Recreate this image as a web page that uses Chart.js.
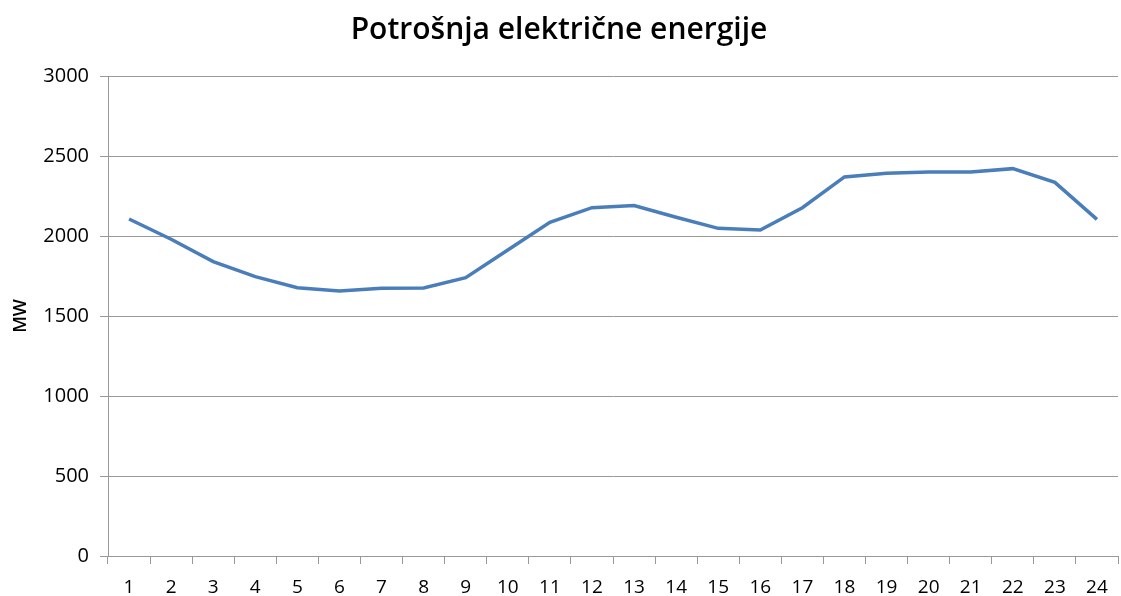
<!DOCTYPE html>
<html>
<head>
<meta charset="utf-8">
<script src="https://cdn.jsdelivr.net/npm/chart.js@4/dist/chart.umd.min.js"></script>
<style>
html,body{margin:0;padding:0;background:#fff;}
#wrap{width:1121px;height:596px;position:relative;}
</style>
</head>
<body>
<div id="wrap"><canvas id="c" width="1121" height="596"></canvas></div>
<script>
const hours = ['1','2','3','4','5','6','7','8','9','10','11','12','13','14','15','16','17','18','19','20','21','22','23','24'];
const consumption = [2106, 1980, 1840, 1746, 1677, 1656, 1673, 1675, 1740, 1912, 2086, 2177, 2190, 2117, 2048, 2037, 2177, 2369, 2392, 2400, 2400, 2421, 2335, 2104];
const yTicks = [0, 500, 1000, 1500, 2000, 2500, 3000];
const titleText = 'Potrošnja električne energije';
const yTitle = 'MW';

const FONT = "'Open Sans', 'Noto Sans', sans-serif";

new Chart(document.getElementById('c'), {
  type: 'line',
  data: {
    labels: hours,
    datasets: [{
      label: yTitle,
      data: consumption,
      borderColor: '#4A7EBB',
      borderWidth: 3.5,
      pointRadius: 0,
      tension: 0,
      fill: false
    }]
  },
  options: {
    responsive: false,
    animation: false,
    layout: { padding: { left: 0, right: 3, top: 0, bottom: 0 } },
    plugins: {
      legend: { display: false },
      tooltip: { enabled: false },
      title: {
        display: true,
        text: titleText,
        color: '#000',
        font: { family: FONT, size: 30, weight: '600' },
        padding: { top: 12, bottom: 28 }
      }
    },
    scales: {
      x: {
        offset: true,
        grid: {
          display: true,
          offset: true,
          drawOnChartArea: false,
          drawTicks: true,
          tickLength: 8,
          color: '#999'
        },
        border: { display: true, color: '#999', width: 1 },
        ticks: {
          color: '#000',
          font: { family: FONT, size: 19 },
          padding: 12,
          maxRotation: 0,
          autoSkip: false
        },
        afterFit(scale) { scale.height = 40; }
      },
      y: {
        min: 0,
        max: 3000,
        afterBuildTicks(scale) { scale.ticks = yTicks.map(v => ({ value: v })); },
        grid: {
          color: '#999',
          tickLength: 8,
          drawTicks: true
        },
        border: { display: true, color: '#999', width: 1 },
        ticks: {
          color: '#000',
          font: { family: FONT, size: 20 },
          padding: 11,
          callback: (v) => String(v)
        },
        title: {
          display: true,
          text: yTitle,
          color: '#000',
          font: { family: FONT, size: 18, weight: '600' },
          padding: { top: 10, bottom: 0 }
        },
        afterFit(scale) { scale.width = 108; }
      }
    }
  }
});
</script>
</body>
</html>
